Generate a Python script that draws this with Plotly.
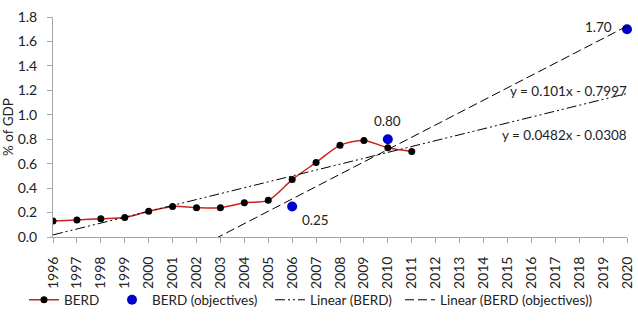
import plotly.graph_objects as go

years = list(range(1996, 2021))
berd_years = list(range(1996, 2012))
berd_values = [0.13, 0.14, 0.15, 0.16, 0.21, 0.25, 0.24, 0.24, 0.28, 0.30, 0.47, 0.61, 0.75, 0.79, 0.73, 0.70]
obj_years = [2006, 2010, 2020]
obj_values = [0.25, 0.80, 1.70]
obj_labels = ["0.25", "0.80", "1.70"]
# trendline equations as displayed (x = year index, 1996 -> 1)
trend_berd = (0.0482, -0.0308)
trend_obj = (0.101, -0.7997)
yticks = [0.0, 0.2, 0.4, 0.6, 0.8, 1.0, 1.2, 1.4, 1.6, 1.8]

FONT = "Lato"
W, H = 638, 321
idx = [y - 1995 for y in years]
tb = [trend_berd[0] * i + trend_berd[1] for i in idx]
to = [trend_obj[0] * i + trend_obj[1] for i in idx]

fig = go.Figure()
fig.add_trace(go.Scatter(x=berd_years, y=berd_values, mode="lines+markers", name="BERD",
                         line=dict(color="#CC2222", width=1.5, shape="spline", smoothing=0.8),
                         marker=dict(color="black", size=7), legend="legend"))
fig.add_trace(go.Scatter(x=obj_years, y=obj_values, mode="markers", name="BERD (objectives)",
                         marker=dict(color="#0000CC", size=10), cliponaxis=False, legend="legend2"))
fig.add_trace(go.Scatter(x=years, y=tb, mode="lines", name="Linear (BERD)",
                         line=dict(color="black", width=1, dash="10px,3px,2px,3px,2px,3px"),
                         legend="legend3"))
fig.add_trace(go.Scatter(x=years, y=to, mode="lines", name="Linear (BERD (objectives))",
                         line=dict(color="black", width=1, dash="9px,4px"), legend="legend4"))

ann = []
ann.append(dict(x=obj_years[0], y=obj_values[0], text=obj_labels[0], xanchor="left", yanchor="middle",
                xshift=8, yshift=-14, showarrow=False))
ann.append(dict(x=obj_years[1], y=obj_values[1], text=obj_labels[1], xanchor="center", yanchor="bottom",
                xshift=0, yshift=8, showarrow=False))
ann.append(dict(x=obj_years[2], y=obj_values[2], text=obj_labels[2], xanchor="right", yanchor="middle",
                xshift=-13, yshift=2, showarrow=False))
ann.append(dict(x=2020, y=1.198, text="y = 0.101x - 0.7997", xanchor="right", yanchor="middle",
                xshift=2, showarrow=False))
ann.append(dict(x=2020, y=0.835, text="y = 0.0482x - 0.0308", xanchor="right", yanchor="middle",
                xshift=2, showarrow=False))
for a in ann:
    a.update(xref="x", yref="y", font=dict(family=FONT, size=13.5, color="#222"))
fig.update_layout(annotations=ann)


def leg(px_left):
    return dict(orientation="h", xref="container", yref="container", x=px_left / W, xanchor="left",
                y=1 - 300 / H, yanchor="middle", font=dict(family=FONT, size=13.5, color="#222"),
                bgcolor="rgba(0,0,0,0)", itemwidth=30)


fig.update_layout(
    width=W, height=H,
    margin=dict(l=53, r=11, t=17, b=84, autoexpand=False),
    paper_bgcolor="white", plot_bgcolor="white",
    font=dict(family=FONT, size=14, color="#222"),
    showlegend=True,
    legend=leg(24), legend2=leg(112), legend3=leg(270), legend4=leg(400),
)
fig.update_xaxes(range=[1996, 2020], tickmode="array", tickvals=years, ticktext=[str(y) for y in years],
                 tickangle=-90, showline=True, linecolor="#A6A6A6", linewidth=1, ticks="outside",
                 ticklen=5, tickcolor="#A6A6A6", showgrid=False, zeroline=False, automargin=False,
                 ticklabelstandoff=8, tickfont=dict(family=FONT, size=14, color="#222"))
fig.update_yaxes(range=[0, 1.8], tickmode="array", tickvals=yticks, ticktext=[f"{v:.1f}" for v in yticks],
                 showline=True, linecolor="#A6A6A6", linewidth=1, ticks="outside", ticklen=5,
                 tickcolor="#A6A6A6", showgrid=False, zeroline=False, automargin=False,
                 ticklabelstandoff=7,
                 title=dict(text="% of GDP", font=dict(family=FONT, size=13.5, color="#222"), standoff=4),
                 tickfont=dict(family=FONT, size=14, color="#222"))

fig.write_html("out.html")
